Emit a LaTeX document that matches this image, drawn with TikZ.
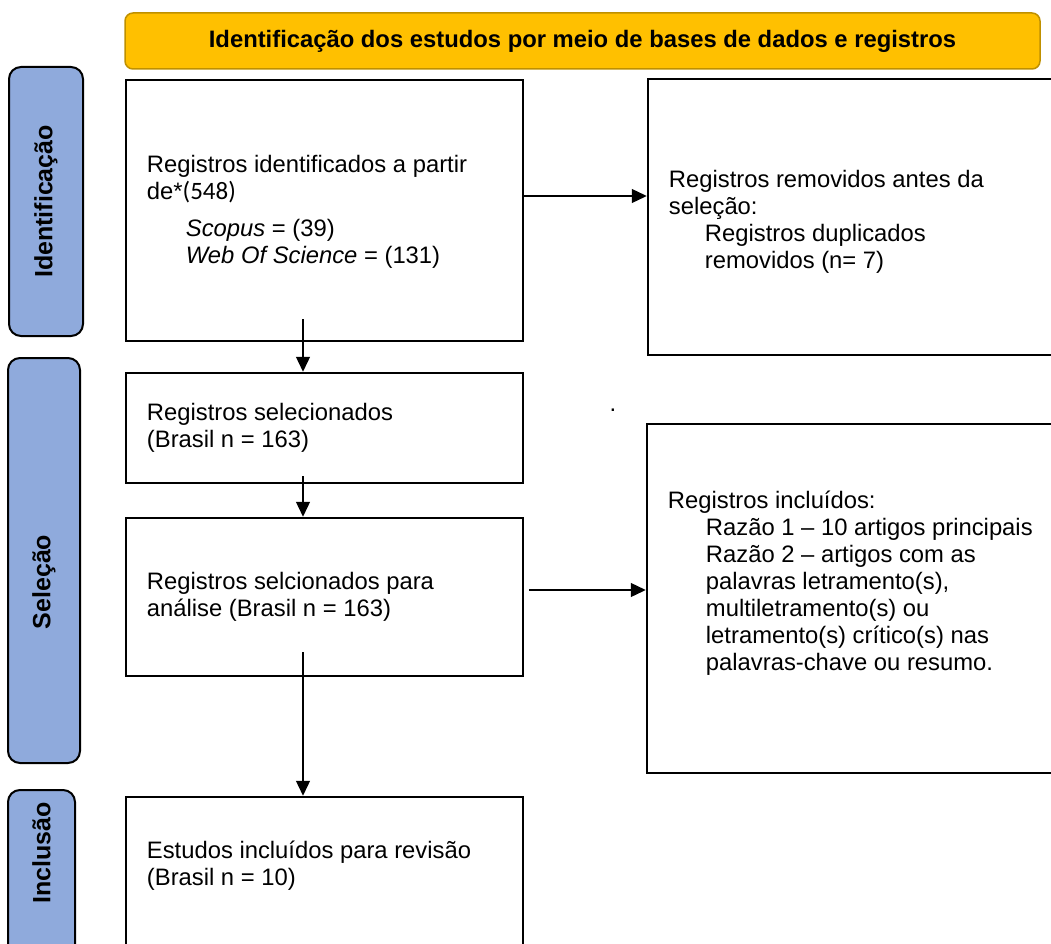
\documentclass[tikz,border=0pt]{standalone}
\usepackage{fontspec}
\setmainfont{Liberation Sans}
\newfontfamily\carlito{Carlito}
\usepackage{xcolor}
\usepackage{tikz}
\usetikzlibrary{positioning,%
  arrows.meta,%
  calc%
}

\definecolor{bannergold}{HTML}{FFC000}
\definecolor{bannerline}{HTML}{BF9000}
\definecolor{phaseblue}{HTML}{8FAADC}
\newcommand{\chartsize}{\fontsize{23.8}{27}\selectfont}

\tikzset{
  banner/.style={draw=bannerline, line width=1.5pt, fill=bannergold, rounded corners=8pt, font=\chartsize\bfseries},
  phase/.style={draw=black, line width=2pt, fill=phaseblue, rounded corners=12pt},
  phasetext/.style={rotate=90, font=\fontsize{25}{27}\selectfont\bfseries},
  recbox/.style={draw=black, line width=2.5pt, inner sep=0pt},
  rectext/.style={align=left, inner sep=0pt},
  flow/.style={-{Triangle[length=15pt,width=14pt]}, line width=1.3pt}
}

\begin{document}
\begin{tikzpicture}[x=1pt,y=-1pt,font=\chartsize]
            \clip (0,0) rectangle (1051,944);

            \node[banner, minimum width=915pt, minimum height=56pt] (title) at (582.5,41) {Identificação dos estudos por meio de bases de dados e registros};

            % fases
            \node[phase, minimum width=74pt, minimum height=269pt] (idbar) at (46,201.5) {};
            \node[phase, minimum width=72pt, minimum height=405pt] (selbar) at (44,560.5) {};
            \node[phase, minimum width=67pt, minimum height=170pt] (incbar) at (41.5,875) {};
            \node[phasetext] (idlab) at (idbar) {Identificação};
            \node[phasetext] (sellab) at (44,582) {Seleção};
            \node[phasetext] (inclab) at (41.5,853) {Inclusão};

            % caixas
            \node[recbox, minimum width=397pt, minimum height=261pt] (idrec) at (324.5,210.5) {};
            \node[recbox, minimum width=397pt, minimum height=110pt] (selrec) at (324.5,428) {};
            \node[recbox, minimum width=397pt, minimum height=158pt] (anarec) at (324.5,597) {};
            \node[recbox, minimum width=397pt, minimum height=150pt] (increc) at (324.5,872) {};
            \node[recbox, minimum width=422pt, minimum height=276pt] (rem) at (859,217) {};
            \node[recbox, minimum width=423pt, minimum height=349pt] (inc) at (858.5,598.5) {};

            \node[rectext, right=22pt of idrec.west, yshift=-1pt] (idtxt) {Registros identificados a partir\\de*{\carlito\fontsize{25}{27}\selectfont(548)}\\[10pt]
              \hspace*{39pt}\textit{Scopus} = (39)\\\hspace*{39pt}\textit{Web Of Science} = (131)};
            \node[rectext, right=22pt of selrec.west] (seltxt) {Registros selecionados\\(Brasil n = 163)};
            \node[rectext, right=22pt of anarec.west] (anatxt) {Registros selcionados para\\análise (Brasil n = 163)};
            \node[rectext, right=22pt of increc.west, yshift=6pt] (inctxt) {Estudos incluídos para revisão\\(Brasil n = 10)};
            \node[rectext, right=22pt of rem.west, yshift=-5pt] (remtxt) {Registros removidos antes da\\seleção:\\
              \hspace*{36pt}Registros duplicados\\\hspace*{36pt}removidos (n= 7)};
            \node[rectext, right=22pt of inc.west, yshift=15.5pt] (inctxtr) {Registros incluídos:\\
              \hspace*{38pt}Razão 1 -- 10 artigos principais\\
              \hspace*{38pt}Razão 2 -- artigos com as\\
              \hspace*{38pt}palavras letramento(s),\\
              \hspace*{38pt}multiletramento(s) ou\\
              \hspace*{38pt}letramento(s) crítico(s) nas\\
              \hspace*{38pt}palavras-chave ou resumo.};

            \node[inner sep=0pt] (dot) at (613,410) {.};

            % setas
            \draw[flow] ([xshift=-21.5pt,yshift=23pt]idrec.south) -- ([xshift=-21.5pt]selrec.north);
            \draw[flow] ([xshift=-21.5pt,yshift=8pt]selrec.south) -- ([xshift=-21.5pt]anarec.north);
            \draw[flow] ([xshift=-21.5pt,yshift=25pt]anarec.south) -- ([xshift=-21.5pt]increc.north);
            \draw[flow] ([yshift=14.5pt]idrec.east) -- ([yshift=14.5pt]idrec.east -| rem.west);
            \draw[flow] ([xshift=5pt,yshift=7pt]anarec.east) -- ([yshift=7pt]anarec.east -| inc.west);
        \end{tikzpicture}
\end{document}
